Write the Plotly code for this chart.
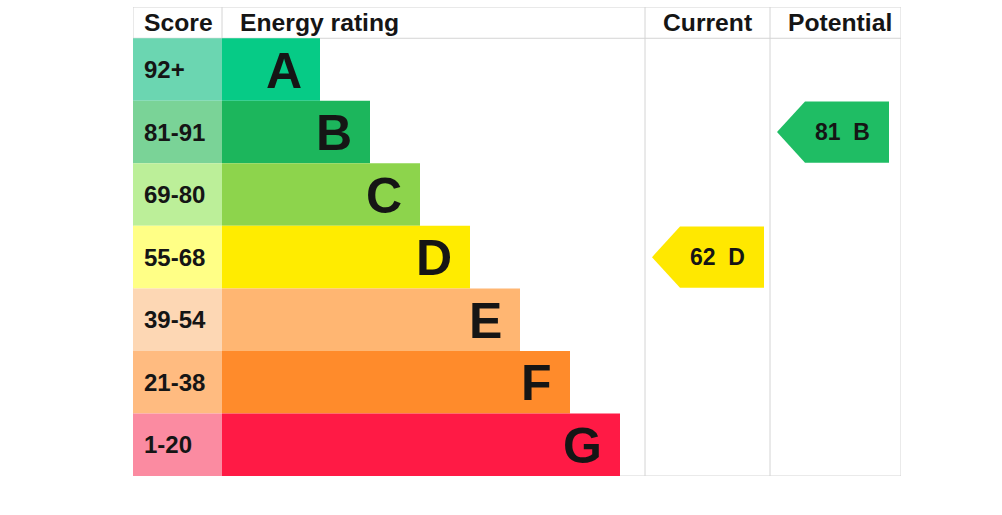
import plotly.graph_objects as go

# ---- data ----
bands = ["A", "B", "C", "D", "E", "F", "G"]
score_ranges = ["92+", "81-91", "69-80", "55-68", "39-54", "21-38", "1-20"]
bar_lengths = [98, 148, 198, 248, 298, 348, 398]
band_colors = ["#06cb86", "#1cb65c", "#8dd44c", "#ffec00", "#ffb672", "#ff8b2b", "#ff1a45"]
score_colors = ["#6bd6b1", "#7ad397", "#bcef99", "#ffff86", "#fdd7b4", "#ffbb80", "#fb8ba1"]
headers = ["Score", "Energy rating", "Current", "Potential"]
current_score, current_band = 62, "D"
potential_score, potential_band = 81, "B"

# ---- layout constants (x units == px inside plot area) ----
SCORE_W = 89
CUR_L, POT_L, TOTAL_W = 512, 637, 768
LINE = "#d4d4d4"
FONT = "Arial"
TXT = "#151515"

rows = list(range(len(bands)))

fig = go.Figure()

# score column cells
fig.add_trace(go.Bar(
    y=rows, x=[SCORE_W] * len(rows), base=0, orientation="h", width=1,
    marker=dict(color=score_colors, line=dict(width=0)), hoverinfo="skip",
))
# rating bars
fig.add_trace(go.Bar(
    y=rows, x=bar_lengths, base=SCORE_W, orientation="h", width=1,
    marker=dict(color=band_colors, line=dict(width=0)), hoverinfo="skip",
))

annotations = []
for i, (b, s, L) in enumerate(zip(bands, score_ranges, bar_lengths)):
    annotations.append(dict(x=0, y=i, text=f"<b>{s}</b>", showarrow=False, xanchor="left",
                            xshift=9, font=dict(family=FONT, size=24, color=TXT)))
    annotations.append(dict(x=SCORE_W + L, y=i, text=f"<b>{b}</b>", showarrow=False,
                            xanchor="right", xshift=-16, yshift=-1,
                            font=dict(family=FONT, size=50, color=TXT)))

# headers
hdr_y = -0.75
HS = 24.7
annotations.append(dict(x=0, y=hdr_y, text=f"<b>{headers[0]}</b>", showarrow=False, xanchor="left",
                        xshift=9, font=dict(family=FONT, size=HS, color=TXT)))
annotations.append(dict(x=SCORE_W, y=hdr_y, text=f"<b>{headers[1]}</b>", showarrow=False, xanchor="left",
                        xshift=16, font=dict(family=FONT, size=HS, color=TXT)))
annotations.append(dict(x=(CUR_L + POT_L) / 2, y=hdr_y, text=f"<b>{headers[2]}</b>", showarrow=False,
                        xshift=0, font=dict(family=FONT, size=HS, color=TXT)))
annotations.append(dict(x=(POT_L + TOTAL_W) / 2, y=hdr_y, text=f"<b>{headers[3]}</b>", showarrow=False,
                        xshift=4, font=dict(family=FONT, size=HS, color=TXT)))

# arrows
def arrow(col_left, score, band, color):
    r = bands.index(band)
    tip, corner, right, h = col_left + 7, col_left + 35, col_left + 119, 0.49
    xs = [tip, corner, right, right, corner, tip]
    ys = [r, r - h, r - h, r + h, r + h, r]
    fig.add_trace(go.Scatter(x=xs, y=ys, fill="toself", fillcolor=color, mode="lines",
                             line=dict(width=0, color=color), hoverinfo="skip"))
    annotations.append(dict(x=(corner + right) / 2 - 5, y=r,
                            text=f"<b>{score}\u00a0\u00a0{band}</b>", showarrow=False,
                            font=dict(family=FONT, size=23, color=TXT)))

arrow(CUR_L, current_score, current_band, "#ffe800")
arrow(POT_L, potential_score, potential_band, "#1fbd64")

shapes = [
    dict(type="rect", x0=0, x1=TOTAL_W, y0=-1, y1=len(bands) - 0.5, line=dict(color=LINE, width=1), layer="below"),
    dict(type="line", x0=0, x1=TOTAL_W, y0=-0.5, y1=-0.5, line=dict(color=LINE, width=1), layer="below"),
    dict(type="line", x0=SCORE_W, x1=SCORE_W, y0=-1, y1=-0.5, line=dict(color=LINE, width=1), layer="below"),
    dict(type="line", x0=CUR_L, x1=CUR_L, y0=-1, y1=len(bands) - 0.5, line=dict(color=LINE, width=1), layer="below"),
    dict(type="line", x0=POT_L, x1=POT_L, y0=-1, y1=len(bands) - 0.5, line=dict(color=LINE, width=1), layer="below"),
]

fig.update_layout(
    width=1002, height=515,
    margin=dict(l=133, r=101, t=7, b=39, pad=0),
    paper_bgcolor="white", plot_bgcolor="white",
    showlegend=False, barmode="overlay",
    xaxis=dict(range=[0, TOTAL_W], visible=False, fixedrange=True),
    yaxis=dict(range=[len(bands) - 0.5, -1], visible=False, fixedrange=True),
    annotations=annotations, shapes=shapes,
)

fig.write_html("out.html", config={"displayModeBar": False})
